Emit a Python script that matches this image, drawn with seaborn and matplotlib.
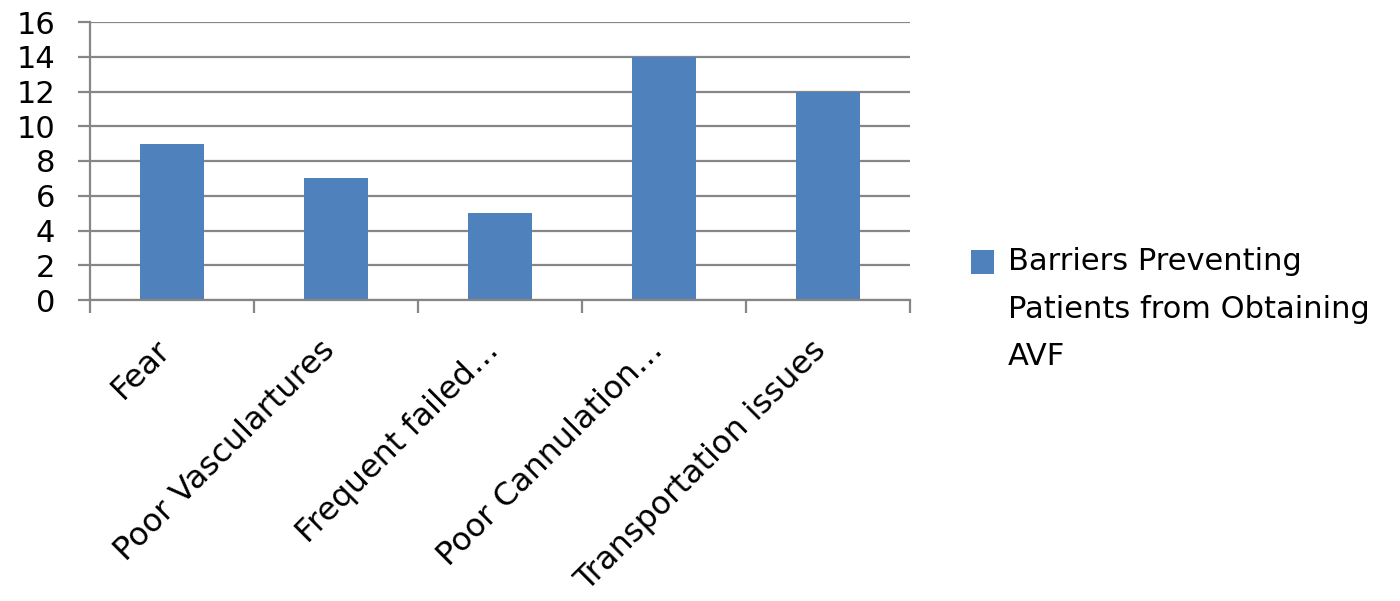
import matplotlib
matplotlib.use("Agg")
import matplotlib.pyplot as plt
import seaborn as sns
import pandas as pd
from matplotlib.ticker import FixedLocator
from matplotlib.patches import Rectangle
from matplotlib.container import BarContainer
from matplotlib.legend_handler import HandlerPatch

categories = ["Fear", "Poor Vasculartures", "Frequent failed…",
              "Poor Cannulation…", "Transportation issues"]
values = [9, 7, 5, 14, 12]
series_name = "Barriers Preventing\nPatients from Obtaining\nAVF"
y_ticks = [0, 2, 4, 6, 8, 10, 12, 14, 16]

bar_color = "#4F81BD"
grid_color = "#868686"
legend_size = 22
legend_linespacing = 1.8

sns.set_theme(style="white")
plt.rcParams["font.family"] = ["DejaVu Sans"]
plt.rcParams["text.color"] = "black"
plt.rcParams["xtick.color"] = "black"
plt.rcParams["ytick.color"] = "black"

df = pd.DataFrame({"category": categories, "count": values})

fig = plt.figure(figsize=(14, 6.01), dpi=100)
ax = fig.add_axes([90 / 1400, 1 - 300 / 601, 820 / 1400, 278 / 601])

sns.barplot(data=df, x="category", y="count", color=bar_color,
            saturation=1, width=0.39, label=series_name, ax=ax,
            linewidth=0, zorder=3)

ax.set_xlim(-0.5, len(categories) - 0.5)
ax.set_ylim(0, 16)
ax.set_yticks(y_ticks)
ax.set_yticklabels([str(t) for t in y_ticks])
ax.yaxis.grid(True, color=grid_color, linewidth=1.6, zorder=0)
ax.set_axisbelow(True)

for side in ["top", "right"]:
    ax.spines[side].set_visible(False)
for side in ["left", "bottom"]:
    ax.spines[side].set_color(grid_color)
    ax.spines[side].set_linewidth(1.6)
    ax.spines[side].set_zorder(4)

ax.tick_params(axis="y", length=9, width=1.6, color=grid_color,
               pad=16, labelsize=22, left=True, labelcolor="black")
ax.tick_params(axis="x", which="major", length=0, pad=37, labelsize=23,
               labelcolor="black")
ax.xaxis.set_minor_locator(FixedLocator([i - 0.5 for i in range(len(categories) + 1)]))
ax.tick_params(axis="x", which="minor", length=9, width=1.6, color=grid_color,
               bottom=True)
for lbl in ax.get_xticklabels():
    lbl.set_rotation(45)
    lbl.set_ha("right")
    lbl.set_va("baseline")
    lbl.set_rotation_mode("anchor")
ax.set_xlabel("")
ax.set_ylabel("")


def top_square(legend, orig_handle, xdescent, ydescent, width, height, fontsize):
    # square key lifted to sit beside the first line of the wrapped label
    side = 0.78 * fontsize
    lift = 0.865 * legend_linespacing * fontsize
    return Rectangle((-xdescent, -ydescent + lift), side, side)


def first_bar_style(legend_handle, orig_handle):
    legend_handle.update_from(orig_handle[0])


handles, labels = ax.get_legend_handles_labels()
if ax.get_legend() is not None:
    ax.get_legend().remove()
key_handler = HandlerPatch(patch_func=top_square, update_func=first_bar_style)
leg = fig.legend(handles, labels, loc="center left",
                 bbox_to_anchor=(943 / 1400, 1 - 309 / 601),
                 frameon=False, fontsize=legend_size, handlelength=0.78,
                 handleheight=0.78, handletextpad=0.45,
                 handler_map={BarContainer: key_handler, Rectangle: key_handler})
for t in leg.get_texts():
    t.set_linespacing(legend_linespacing)
    t.set_color("black")

fig.savefig("out.png", dpi=100, facecolor="white")
